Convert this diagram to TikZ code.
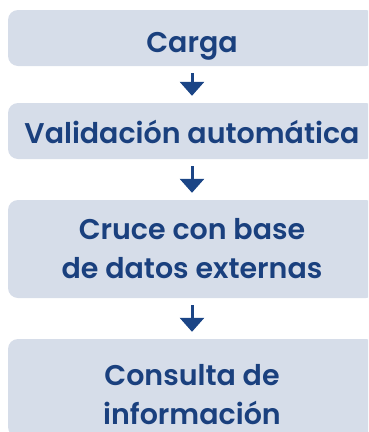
\documentclass[tikz,border=0pt]{standalone}
\usepackage{fontspec}
\setmainfont{Poppins}[UprightFont=* SemiBold]
\usetikzlibrary{arrows.meta}
\definecolor{boxfill}{HTML}{D6DDE9}
\definecolor{txtblue}{HTML}{1A407E}
\definecolor{arrblue}{HTML}{1B4586}
\begin{document}
\begin{tikzpicture}[x=1pt,y=-1pt,
  stepbox/.style={rectangle, rounded corners=10pt, fill=boxfill, draw=none,
    minimum width=368pt, text=txtblue, align=center, inner sep=0pt,
    text depth=0pt, font=\fontsize{28.5}{39}\selectfont},
  flow/.style={arrblue, line width=3pt, -{Triangle[width=24pt,length=14pt]},
    shorten <=7pt, shorten >=7pt}]
\useasboundingbox (0,0) rectangle (368,432);
\clip (0,0) rectangle (368,432);
\node[stepbox, minimum height=56pt, text height=28pt] (b1) at (192,38) {Carga};
\node[stepbox, minimum height=56pt, text height=24pt] (b2) at (192,131) {Validación automática};
\node[stepbox, minimum height=98pt, text height=58pt] (b3) at (192,249) {Cruce con base\\de datos externas};
\node[stepbox, minimum height=98pt, text height=72pt] (b4) at (192,388) {Consulta de\\información};
\draw[flow] (b1) -- (b2);
\draw[flow] (b2) -- (b3);
\draw[flow] (b3) -- (b4);
\end{tikzpicture}
\end{document}
